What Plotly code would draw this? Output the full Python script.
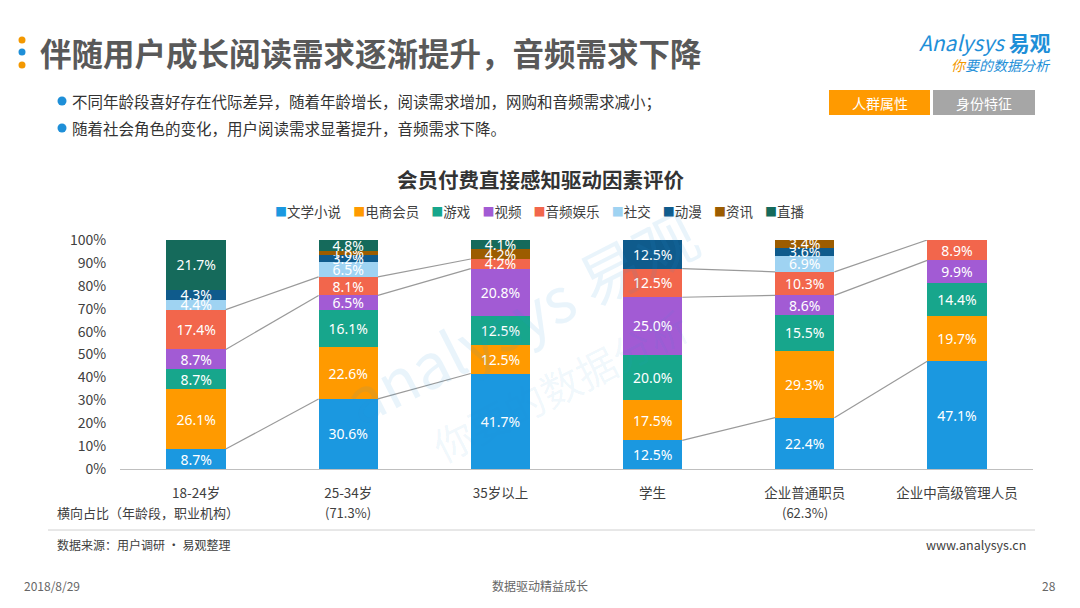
import plotly.graph_objects as go

# ---------------- data ----------------
categories = ["18-24岁", "25-34岁", "35岁以上", "学生", "企业普通职员", "企业中高级管理人员"]
share_row = ["", "(71.3%)", "", "", "(62.3%)", ""]
series_names = ["文学小说", "电商会员", "游戏", "视频", "音频娱乐", "社交", "动漫", "资讯", "直播"]
wenxue = [8.7, 30.6, 41.7, 12.5, 22.4, 47.1]
dianshang = [26.1, 22.6, 12.5, 17.5, 29.3, 19.7]
youxi = [8.7, 16.1, 12.5, 20.0, 15.5, 14.4]
shipin = [8.7, 6.5, 20.8, 25.0, 8.6, 9.9]
yinpin = [17.4, 8.1, 4.2, 12.5, 10.3, 8.9]
shejiao = [4.4, 6.5, 0, 0, 6.9, 0]
dongman = [4.3, 3.2, 0, 12.5, 3.6, 0]
zixun = [0, 1.6, 4.2, 0, 3.4, 0]
zhibo = [21.7, 4.8, 4.1, 0, 0, 0]
series_values = [wenxue, dianshang, youxi, shipin, yinpin, shejiao, dongman, zixun, zhibo]
y_ticks = [0, 10, 20, 30, 40, 50, 60, 70, 80, 90, 100]
y_ticktext = [f"{v}%" for v in y_ticks]
groups = [[0, 1, 2], [3, 4, 5]]

colors = ["#1b98e0", "#ff9a00", "#17a68c", "#a25bd4", "#f2664c",
          "#9fd3f2", "#0f5b8c", "#9c5c00", "#156a5b"]

# ---------------- geometry helpers ----------------
W, H = 1080, 608
L, R, T, B = 120, 1033, 240, 469
BAR_W = 0.39


def px(x):
    return (x - L) / (R - L)


def py(y):
    return (B - y) / (B - T)


FONT = "Noto Sans CJK SC, Noto Sans, sans-serif"

fig = go.Figure()
xs = list(range(len(categories)))

for name, vals, col in zip(series_names, series_values, colors):
    yv = [v if v else None for v in vals]
    fig.add_trace(go.Bar(
        x=xs, y=yv, name=name, marker=dict(color=col, line=dict(width=0)),
        width=BAR_W, texttemplate="%{y:.1f}%", textposition="inside",
        insidetextanchor="middle", textangle=0,
        textfont=dict(color="white", size=14, family="Noto Sans, sans-serif"),
        hoverinfo="skip", showlegend=False,
    ))

# series lines (tops of 文学小说, 视频, 音频娱乐) within each group
def cum(k):
    return [sum(series_values[j][i] for j in range(k + 1)) for i in xs]

for k in [0, 3, 4]:
    tops = cum(k)
    for g in groups:
        for a, b in zip(g[:-1], g[1:]):
            fig.add_trace(go.Scatter(
                x=[a + BAR_W / 2, b - BAR_W / 2], y=[tops[a], tops[b]],
                mode="lines", line=dict(color="#9a9a9a", width=1.2),
                showlegend=False, hoverinfo="skip",
            ))

annotations = []
shapes = []


def ann(x, y, text, size, color="#404040", xanchor="left", bold=False, **kw):
    if bold:
        text = "<b>" + text + "</b>"
    annotations.append(dict(
        x=px(x), y=py(y), xref="paper", yref="paper", text=text, showarrow=False,
        xanchor=xanchor, yanchor="middle",
        font=dict(size=size, color=color, family=kw.pop("family", FONT)), **kw))


# header
ann(38, 52, "伴随用户成长阅读需求逐渐提升，音频需求下降", 31.5, "#595959", bold=True)
for yy, c in [(40, "#f39800"), (52, "#1e8fd8"), (65, "#f39800")]:
    shapes.append(dict(type="circle", xref="paper", yref="paper",
                       x0=px(18.5), x1=px(25.5), y0=py(yy + 3.5), y1=py(yy - 3.5),
                       fillcolor=c, line=dict(width=0)))
for yy, t in [(101, "不同年龄段喜好存在代际差异，随着年龄增长，阅读需求增加，网购和音频需求减小；"),
              (128, "随着社会角色的变化，用户阅读需求显著提升，音频需求下降。")]:
    shapes.append(dict(type="circle", xref="paper", yref="paper",
                       x0=px(57.5), x1=px(66.5), y0=py(yy + 4.5), y1=py(yy - 4.5),
                       fillcolor="#1e8fd8", line=dict(width=0)))
    ann(70, yy, t, 15.5, "#333333")

# logo
ann(1053, 42, "<i>Analysys</i> <b>易观</b>", 21, "#1e8fd8", xanchor="right")
ann(1053, 65, "<i><span style='color:#f39800'>你</span>要的数据分析</i>", 14, "#1e8fd8", xanchor="right")

# buttons
shapes.append(dict(type="rect", xref="paper", yref="paper", x0=px(829), x1=px(930),
                   y0=py(115), y1=py(90), fillcolor="#ff9a00", line=dict(width=0)))
shapes.append(dict(type="rect", xref="paper", yref="paper", x0=px(933), x1=px(1035),
                   y0=py(115), y1=py(90), fillcolor="#a6a6a6", line=dict(width=0)))
ann(879.5, 102.5, "人群属性", 14, "white", xanchor="center")
ann(984, 102.5, "身份特征", 14, "white", xanchor="center")

# chart title
ann(540, 179, "会员付费直接感知驱动因素评价", 20.5, "#333333", xanchor="center", bold=True)

# legend (built from series names and colours)
legend_text = "    ".join(
    f"<span style='color:{c};font-size:12px'>■</span>{n}" for n, c in zip(series_names, colors))
ann(540, 211, legend_text, 13.5, "#404040", xanchor="center")

# watermark
ann(520, 315, "analysys 易观", 62, "rgba(40,150,220,0.10)", xanchor="center", textangle=-27)
ann(560, 385, "你要的数据分析", 40, "rgba(40,150,220,0.08)", xanchor="center", textangle=-27)

# second row of x labels
ann(55, 512, "横向占比（年龄段，职业机构）", 13, "#404040")
for i, t in enumerate(share_row):
    if t:
        annotations.append(dict(x=i, y=py(512), xref="x", yref="paper", text=t,
                                showarrow=False, xanchor="center", yanchor="middle",
                                font=dict(size=13, color="#404040", family=FONT)))

# footer
shapes.append(dict(type="line", xref="paper", yref="paper", x0=px(48), x1=px(1035),
                   y0=py(530), y1=py(530), line=dict(color="#d0d0d0", width=1)))
ann(55, 544, "数据来源：用户调研 · 易观整理", 12, "#404040")
ann(1028, 544, "www.analysys.cn", 12.5, "#404040", xanchor="right")
ann(22, 585, "2018/8/29", 12, "#666666")
ann(540, 585, "数据驱动精益成长", 12, "#666666", xanchor="center")
ann(1058, 585, "28", 12, "#666666", xanchor="right")

fig.update_layout(
    width=W, height=H, barmode="stack",
    margin=dict(l=L, r=W - R, t=T, b=H - B, pad=0),
    paper_bgcolor="white", plot_bgcolor="white",
    font=dict(family=FONT, color="#404040"),
    uniformtext=dict(minsize=14, mode="show"),
    showlegend=False,
    xaxis=dict(range=[-0.5, 5.5], tickvals=xs, ticktext=categories, showgrid=False,
               zeroline=False, showline=True, linecolor="#bfbfbf", linewidth=1,
               ticks="outside", ticklen=12, tickcolor="rgba(0,0,0,0)",
               tickfont=dict(size=13.5, color="#404040"), fixedrange=True),
    yaxis=dict(range=[0, 100], tickvals=y_ticks, ticktext=y_ticktext, showgrid=False,
               zeroline=False, showline=False, ticks="outside", ticklen=10,
               tickcolor="rgba(0,0,0,0)", tickfont=dict(size=14, color="#404040"),
               fixedrange=True),
    annotations=annotations, shapes=shapes,
)

fig.write_html("out.html", config={"displayModeBar": False},
               post_script="document.body.style.margin='0';document.body.style.padding='0';")
